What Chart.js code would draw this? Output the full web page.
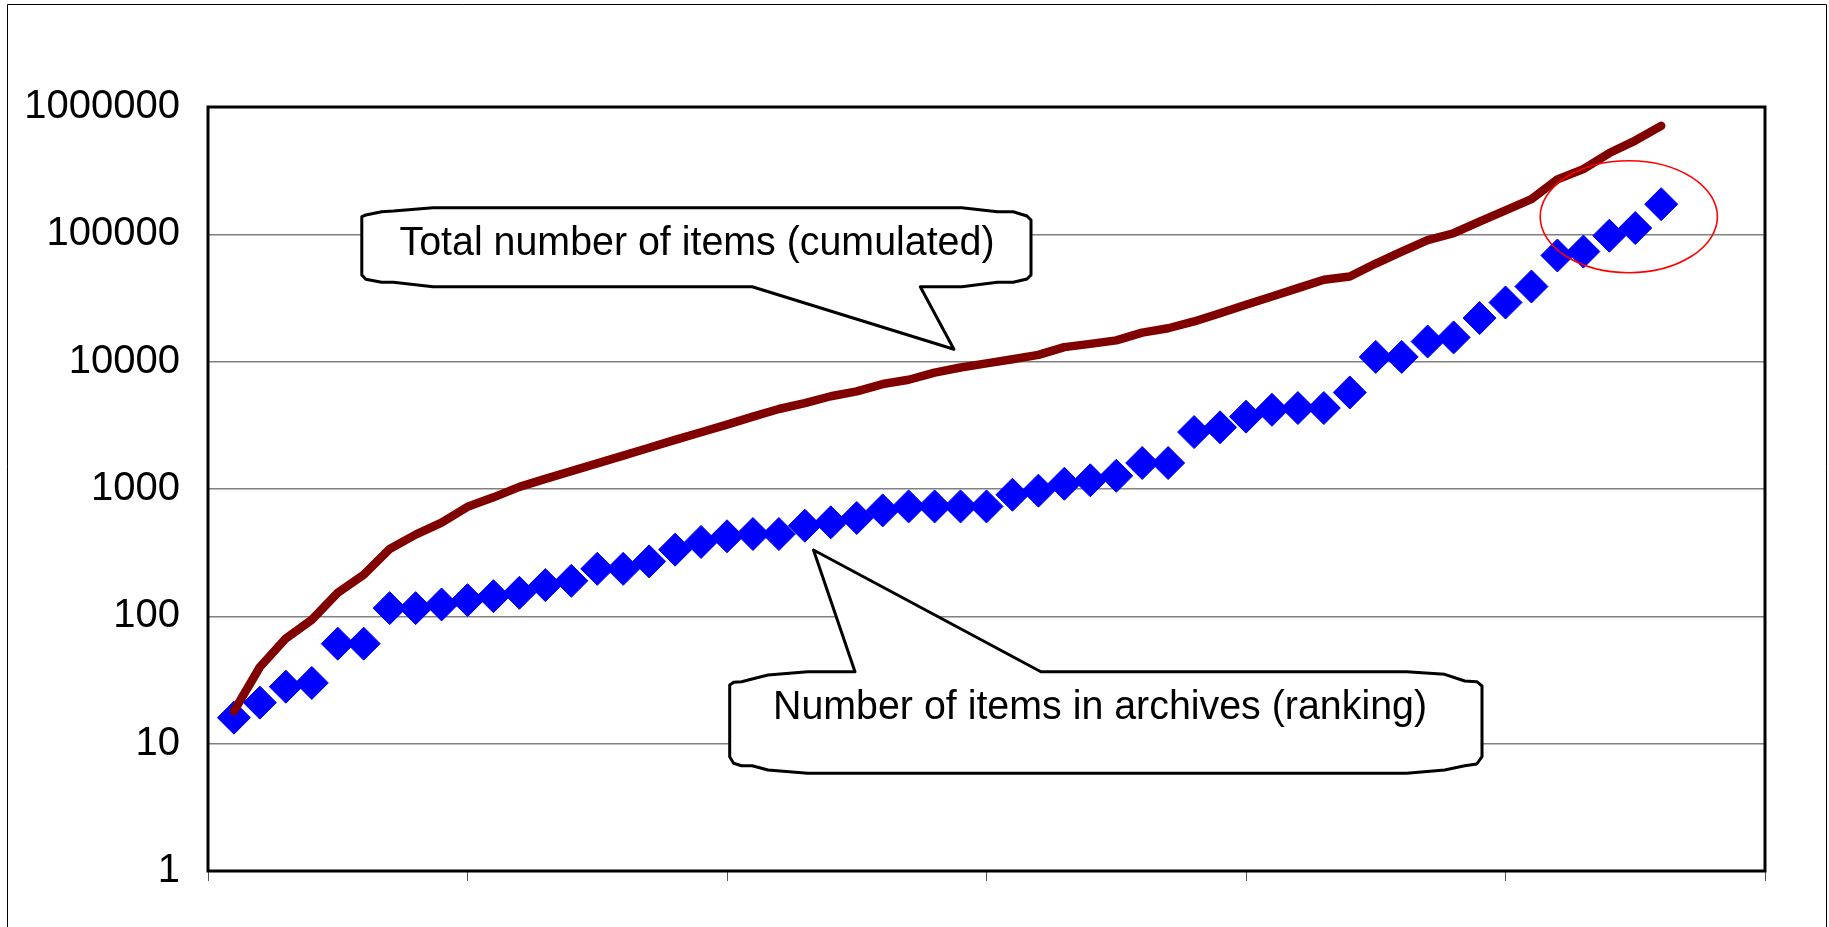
<!DOCTYPE html>
<html>
<head>
<meta charset="utf-8">
<script src="https://cdn.jsdelivr.net/npm/chart.js@4.4.1/dist/chart.umd.min.js"></script>
<style>
html,body{margin:0;padding:0;background:#fff;overflow:hidden}
#wrap{width:1829px;height:927px;position:relative}
canvas{display:block}
</style>
</head>
<body>
<div id="wrap"><canvas id="c" width="1829" height="927"></canvas></div>
<script>
// ---- data ----
const ranks = [1,2,3,4,5,6,7,8,9,10,11,12,13,14,15,16,17,18,19,20,21,22,23,24,25,26,27,28,
  29,30,31,32,33,34,35,36,37,38,39,40,41,42,43,44,45,46,47,48,49,50,51,52,53,54,55,56];
const archiveItems = [16,21,28,30,61,61,116,116,124,134,144,153,176,190,236,236,270,334,384,425,
  443,443,515,547,592,679,730,730,730,730,902,970,1100,1170,1270,1600,1600,2800,3050,3700,
  4190,4325,4325,5730,10900,10900,14400,15500,22000,29150,38900,68200,73200,97500,112000,172500];
const totalItems = [18,40,67,94,153,212,338,438,545,725,860,1040,1200,1380,1590,1830,2110,2430,2790,3200,
  3700,4250,4730,5350,5840,6670,7210,8200,9000,9700,10450,11300,13000,13800,14700,16900,18300,20700,24000,28000,
  32500,37800,44000,46700,59000,73000,90000,102000,126000,154000,189000,270000,325000,435000,545000,711000];
const yTickValues = [1,10,100,1000,10000,100000,1000000];
const xTickValues = [0,10,20,30,40,50,60];
const calloutTotalText = 'Total number of items (cumulated)';
const calloutArchiveText = 'Number of items in archives (ranking)';

// ---- annotation geometry (pixels) ----
const calloutTotalShape = [[361.8,216.7],[365.8,215],[381.6,211.7],[393.4,211],[433,207.7],[961.8,207.7],
  [997.4,211.7],[1013.2,211.7],[1027,216],[1031,220],[1031,275],[1027,279],[1013.2,282.3],[997.4,282.3],
  [961.8,286.7],[920.3,286.7],[953.9,349.3],[752.2,286.7],[433,286.7],[393.4,282.3],[381.6,282.3],
  [365.8,279.3],[361.8,275]];
const calloutArchiveShape = [[729.7,685],[733.6,682.3],[741.6,681.7],[752.2,679],[768,675],[807.6,671.7],
  [855,671.7],[813.5,550],[1040.9,671.7],[1406.6,671.7],[1444.7,674.3],[1464.7,681],[1476.8,681.7],
  [1482,686],[1482,756.7],[1476.8,764],[1464.7,765.7],[1444.7,770],[1406.6,773.3],[807.6,773.3],
  [768,770],[752.2,765.7],[741.6,765.7],[733.6,763.3],[729.7,756.7]];
const FONT = '"Liberation Sans", Arial, sans-serif';

const decor = {
  id: 'decor',
  beforeDraw(chart) {
    const ctx = chart.ctx;
    ctx.save();
    ctx.fillStyle = '#fff';
    ctx.fillRect(0, 0, chart.width, chart.height);
    ctx.strokeStyle = '#000';
    ctx.lineWidth = 1;
    ctx.beginPath();
    ctx.moveTo(7.5, 940); ctx.lineTo(7.5, 4.5); ctx.lineTo(1826.5, 4.5); ctx.lineTo(1826.5, 940);
    ctx.stroke();
    ctx.restore();
  },
  beforeDatasetsDraw(chart) {
    const {ctx, chartArea: a} = chart;
    ctx.save();
    ctx.strokeStyle = '#000';
    ctx.lineWidth = 3;
    ctx.strokeRect(a.left, a.top, a.right - a.left, a.bottom - a.top);
    ctx.restore();
  },
  afterDatasetsDraw(chart) {
    const ctx = chart.ctx;
    ctx.save();
    // red ellipse
    ctx.strokeStyle = '#ff0000';
    ctx.lineWidth = 1.6;
    ctx.beginPath();
    ctx.ellipse(1628.8, 216.7, 88.6, 56, 0, 0, Math.PI * 2);
    ctx.stroke();
    // callouts
    const drawShape = (pts) => {
      ctx.beginPath();
      ctx.moveTo(pts[0][0], pts[0][1]);
      for (let i = 1; i < pts.length; i++) ctx.lineTo(pts[i][0], pts[i][1]);
      ctx.closePath();
      ctx.fillStyle = '#fff';
      ctx.fill();
      ctx.strokeStyle = '#000';
      ctx.lineWidth = 3;
      ctx.lineJoin = 'round';
      ctx.stroke();
    };
    const drawText = (txt, cx, base) => {
      ctx.save();
      ctx.translate(cx, base);
      ctx.scale(0.96, 1);
      ctx.fillStyle = '#000';
      ctx.font = '41px ' + FONT;
      ctx.textAlign = 'center';
      ctx.textBaseline = 'alphabetic';
      ctx.fillText(txt, 0, 0);
      ctx.restore();
    };
    drawShape(calloutTotalShape);
    drawText(calloutTotalText, 697, 255);
    drawShape(calloutArchiveShape);
    drawText(calloutArchiveText, 1100, 719);
    ctx.restore();
  }
};

new Chart(document.getElementById('c'), {
  type: 'line',
  data: {
    datasets: [
      {
        label: calloutTotalText,
        data: ranks.map((r, i) => ({x: r, y: totalItems[i]})),
        borderColor: '#800000',
        borderWidth: 8.5,
        borderCapStyle: 'round',
        borderJoinStyle: 'round',
        pointRadius: 0,
        tension: 0,
        fill: false,
        order: 0
      },
      {
        label: calloutArchiveText,
        data: ranks.map((r, i) => ({x: r, y: archiveItems[i]})),
        showLine: false,
        pointStyle: 'rectRot',
        pointRadius: 16.5,
        pointBorderWidth: 1,
        pointBackgroundColor: '#0000ff',
        pointBorderColor: '#0000ff',
        order: 1
      }
    ]
  },
  options: {
    responsive: false,
    devicePixelRatio: 1,
    animation: false,
    events: [],
    layout: {padding: {left: 0, top: 107, right: 64, bottom: 46}},
    plugins: {legend: {display: false}, tooltip: {enabled: false}, title: {display: false}},
    scales: {
      x: {
        type: 'linear',
        min: 0,
        max: 60,
        afterBuildTicks: s => { s.ticks = xTickValues.map(v => ({value: v})); },
        afterFit: s => { s.height = 10; },
        ticks: {display: false},
        grid: {drawOnChartArea: false, drawTicks: true, tickLength: 10, color: '#555', lineWidth: 1},
        border: {display: false}
      },
      y: {
        type: 'logarithmic',
        min: 1,
        max: 1000000,
        afterBuildTicks: s => { s.ticks = yTickValues.map(v => ({value: v})); },
        afterFit: s => { s.width = 208; },
        ticks: {
          callback: v => String(v),
          color: '#000',
          font: {family: FONT, size: 40},
          padding: 28,
          autoSkip: false
        },
        grid: {drawTicks: false, color: '#808080', lineWidth: 1.5},
        border: {display: false}
      }
    }
  },
  plugins: [decor]
});
</script>
</body>
</html>
